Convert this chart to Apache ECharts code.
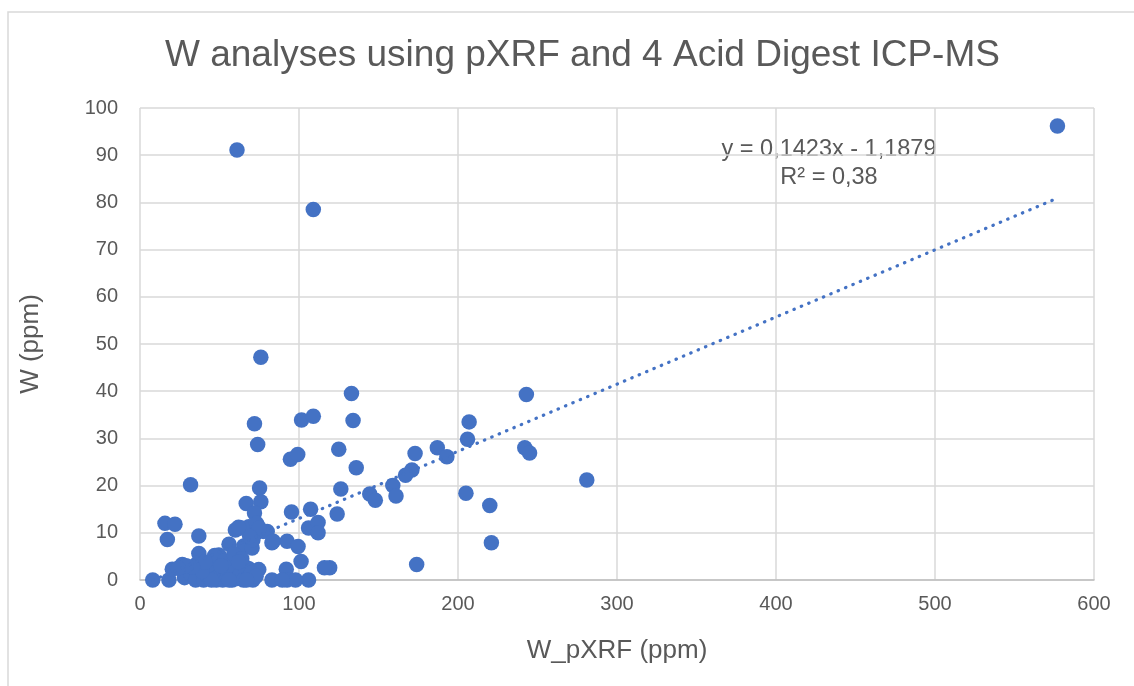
<!DOCTYPE html>
<html>
<head>
<meta charset="utf-8">
<script src="https://cdn.jsdelivr.net/npm/echarts@6/dist/echarts.min.js"></script>
<style>
    html, body { margin: 0; padding: 0; background: #fff; }
    #chart { width: 1134px; height: 686px; }
</style>
</head>
<body>
<div id="chart"></div>
<script>
// pXRF W (ppm) - x values
var pxrf = [
    577, 61, 109, 76, 133, 243, 134, 207, 101.6, 109, 72, 74, 94.6, 99.2, 125, 136,
    206, 187, 193, 173, 171, 167, 159, 161, 144.5, 148, 205, 220, 221, 242, 245, 281,
    174, 31.8, 75.2, 126.3, 124, 119.3, 15.7, 22, 17.2, 37, 8, 18.2, 95.3, 107.3,
    106, 112, 112, 101.3, 116, 106, 92, 83, 92.5, 99.4, 76, 66.8, 72, 60, 64,
    49.6, 56, 37, 20.3, 26.6, 30.7, 34, 80, 68.5, 72.7, 65.3, 70.5, 74.7, 68.5, 57,
    92.5, 83, 97.8, 89.5, 73.3, 77.5, 83.8, 71, 75, 69, 62,
    28, 32, 35, 38, 40, 42, 44, 46, 48, 50, 52, 54, 55, 57, 58, 60, 61, 63, 65, 66,
    68, 70, 71, 73, 36, 43, 47, 53, 59, 64, 45, 39, 51, 56, 62, 67, 41, 33, 29, 24
];
// 4 acid digest ICP-MS W (ppm) - y values
var icpms = [
    96.2, 91.1, 78.5, 47.2, 39.5, 39.3, 33.8, 33.5, 33.9, 34.7, 33.1, 28.7, 25.6, 26.6, 27.7, 23.8,
    29.8, 28, 26.1, 26.8, 23.3, 22.2, 20, 17.8, 18.2, 16.9, 18.4, 15.8, 7.9, 28, 26.9, 21.2,
    3.3, 20.2, 19.5, 19.3, 14, 2.6, 12, 11.8, 8.6, 9.3, 0, 0, 14.4, 15,
    11, 12.2, 10, 3.9, 2.6, 0, 2.3, 7.9, 8.2, 7.1, 16.6, 16.2, 14.2, 10.6, 11,
    5.3, 7.6, 5.6, 2.3, 3.3, 2, 0.8, 10.3, 11.3, 9.9, 7.2, 6.8, 2.2, 2.4, 3.5,
    0, 0, 0, 0, 12, 10.3, 8.2, 8.5, 11, 9.2, 11.2,
    0.5, 1.2, 0, 2.5, 0, 1, 0.3, 2, 0, 1.5, 0, 2.5, 0.5, 1, 0, 2, 0.3, 1.2, 0, 2.8,
    0.5, 1.5, 0, 0.8, 3.5, 3.2, 5.2, 4, 5.5, 4.5, 0, 1.8, 3, 0, 3.8, 0, 3.8, 2.8, 3, 2.5
];
// linear trendline ends (from the equation shown on the chart)
var trendX = [8, 577];
var trendY = [-0.05, 80.9];

var xTicks = [0, 100, 200, 300, 400, 500, 600];
var yTicks = [0, 10, 20, 30, 40, 50, 60, 70, 80, 90, 100];

var eqLines = ['y = 0,1423x - 1,1879', 'R² = 0,38'];

var textColor = '#595959';
var font = '"Liberation Sans", Arial, sans-serif';

var points = [];
for (var i = 0; i < pxrf.length; i++) {
    points.push([pxrf[i], icpms[i]]);
}
var trend = [];
for (var j = 0; j < trendX.length; j++) {
    trend.push([trendX[j], trendY[j]]);
}

var myChart = echarts.init(document.getElementById('chart'));
var option = {
    backgroundColor: '#fff',
    animation: false,
    textStyle: { fontFamily: font },
    title: {
        text: 'W analyses using pXRF and 4 Acid Digest ICP-MS',
        left: 160,
        top: 32,
        textStyle: { color: textColor, fontSize: 37, fontWeight: 'normal', fontFamily: font }
    },
    graphic: [{
        type: 'rect',
        shape: { x: 8, y: 12, width: 1140, height: 700 },
        style: { fill: 'none', stroke: '#d9d9d9', lineWidth: 1.5 },
        silent: true
    }, {
        // trendline label, centred on x = 829
        type: 'text',
        x: 829,
        y: 136,
        style: {
            text: eqLines.join('\n'),
            fill: textColor,
            font: '23.5px ' + font,
            lineHeight: 28,
            textAlign: 'center',
            align: 'center'
        }
    }],
    grid: {
        left: 140,
        top: 108,
        width: 954,
        height: 472,
        containLabel: false
    },
    xAxis: {
        type: 'value',
        min: xTicks[0],
        max: xTicks[xTicks.length - 1],
        interval: 100,
        name: 'W_pXRF (ppm)',
        nameLocation: 'center',
        nameGap: 58,
        nameTextStyle: { color: textColor, fontSize: 26, fontFamily: font },
        axisLine: { show: true, lineStyle: { color: '#bfbfbf', width: 1.5 } },
        axisTick: { show: false },
        axisLabel: { color: textColor, fontSize: 20, margin: 14, fontFamily: font },
        splitLine: { show: true, lineStyle: { color: '#d9d9d9', width: 1.5 } }
    },
    yAxis: {
        type: 'value',
        min: yTicks[0],
        max: yTicks[yTicks.length - 1],
        interval: 10,
        name: 'W (ppm)',
        nameLocation: 'center',
        nameGap: 96,
        nameTextStyle: { color: textColor, fontSize: 26, fontFamily: font },
        axisLine: { show: false },
        axisTick: { show: false },
        axisLabel: { color: textColor, fontSize: 20, margin: 22, fontFamily: font },
        splitLine: { show: true, lineStyle: { color: '#d9d9d9', width: 1.5 } }
    },
    series: [{
        type: 'scatter',
        data: points,
        symbol: 'circle',
        symbolSize: 15.5,
        itemStyle: { color: '#4472c4', opacity: 1 },
        z: 2
    }, {
        type: 'line',
        data: trend,
        showSymbol: false,
        symbol: 'none',
        clip: false,
        lineStyle: { color: '#4472c4', width: 3.2, type: [0.5, 7.5], cap: 'round' },
        z: 3
    }]
};
myChart.setOption(option);
</script>
</body>
</html>
